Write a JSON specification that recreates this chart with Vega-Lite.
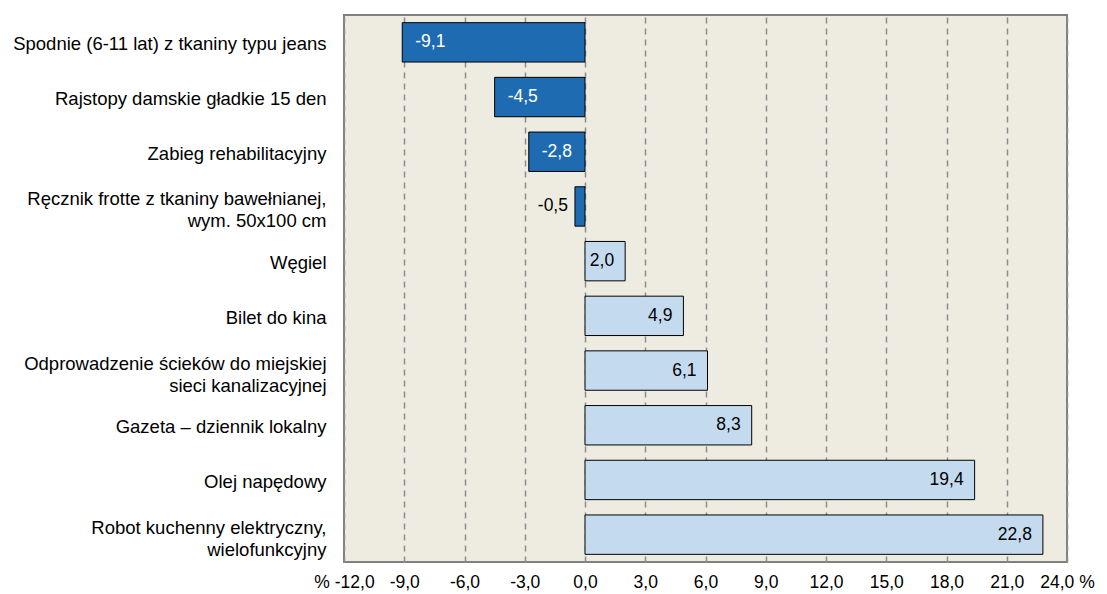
{
  "$schema": "https://vega.github.io/schema/vega-lite/v6.json",
  "width": 723,
  "height": 547,
  "autosize": "none",
  "padding": {"left": 344, "top": 15, "right": 40, "bottom": 32},
  "background": "#ffffff",
  "data": {"values": [
    {"item": "Spodnie (6-11 lat) z tkaniny typu jeans", "v": -9.1},
    {"item": "Rajstopy damskie gładkie 15 den", "v": -4.5},
    {"item": "Zabieg rehabilitacyjny", "v": -2.8},
    {"item": "Ręcznik frotte z tkaniny bawełnianej, wym. 50x100 cm", "v": -0.5},
    {"item": "Węgiel", "v": 2.0},
    {"item": "Bilet do kina", "v": 4.9},
    {"item": "Odprowadzenie ścieków do miejskiej sieci kanalizacyjnej", "v": 6.1},
    {"item": "Gazeta – dziennik lokalny", "v": 8.3},
    {"item": "Olej napędowy", "v": 19.4},
    {"item": "Robot kuchenny elektryczny, wielofunkcyjny", "v": 22.8}
  ]},
  "transform": [
    {"calculate": "replace(replace(format(datum.v, '.1f'), '.', ','), '−', '-')", "as": "lbl"}
  ],
  "encoding": {
    "y": {
      "field": "item", "type": "nominal", "sort": null,
      "scale": {"paddingInner": 0.28, "paddingOuter": 0.14},
      "axis": {
        "title": null, "domain": false, "ticks": false, "labelPadding": 18,
        "labelFont": "Liberation Sans", "labelFontSize": 18.5, "labelColor": "#000000",
        "labelLimit": 400, "labelLineHeight": 22,
        "labelOffset": {"condition": {"test": "length(datum.value) > 40", "value": -7}, "value": 2},
        "labelExpr": "datum.value == 'Ręcznik frotte z tkaniny bawełnianej, wym. 50x100 cm' ? ['Ręcznik frotte z tkaniny bawełnianej,', 'wym. 50x100 cm'] : datum.value == 'Odprowadzenie ścieków do miejskiej sieci kanalizacyjnej' ? ['Odprowadzenie ścieków do miejskiej', 'sieci kanalizacyjnej'] : datum.value == 'Robot kuchenny elektryczny, wielofunkcyjny' ? ['Robot kuchenny elektryczny,', 'wielofunkcyjny'] : datum.value"
      }
    }
  },
  "layer": [
    {
      "mark": {"type": "bar", "stroke": "#000000", "strokeWidth": 1},
      "encoding": {
        "x": {
          "field": "v", "type": "quantitative",
          "scale": {"domain": [-12, 24], "nice": false, "zero": false},
          "axis": {
            "title": null, "orient": "bottom",
            "values": [-12, -9, -6, -3, 0, 3, 6, 9, 12, 15, 18, 21, 24],
            "grid": true, "gridColor": "#8c8c8c", "gridDash": [6, 5], "gridWidth": 1.5,
            "domain": false, "ticks": false, "labelPadding": 11,
            "labelFont": "Liberation Sans", "labelFontSize": 17.5, "labelColor": "#000000",
            "labelFlush": false,
            "labelExpr": "datum.value == -12 ? '% -12,0' : datum.value == 24 ? '24,0 %' : replace(replace(format(datum.value, '.1f'), '.', ','), '−', '-')"
          }
        },
        "x2": {"datum": 0},
        "color": {
          "condition": {"test": "datum.v < 0", "value": "#1F6BB1"},
          "value": "#C4DBEF"
        }
      }
    },
    {
      "transform": [{"filter": "datum.v < -1"}],
      "mark": {"type": "text", "align": "left", "dx": 13, "font": "Liberation Sans", "fontSize": 17.5, "color": "#ffffff", "baseline": "middle"},
      "encoding": {
        "x": {"field": "v", "type": "quantitative"},
        "text": {"field": "lbl", "type": "nominal"}
      }
    },
    {
      "transform": [{"filter": "datum.v < 0 && datum.v >= -1"}],
      "mark": {"type": "text", "align": "right", "dx": -7, "font": "Liberation Sans", "fontSize": 17.5, "color": "#000000", "baseline": "middle"},
      "encoding": {
        "x": {"field": "v", "type": "quantitative"},
        "text": {"field": "lbl", "type": "nominal"}
      }
    },
    {
      "transform": [{"filter": "datum.v > 0"}],
      "mark": {"type": "text", "align": "right", "dx": -11, "font": "Liberation Sans", "fontSize": 17.5, "color": "#000000", "baseline": "middle"},
      "encoding": {
        "x": {"field": "v", "type": "quantitative"},
        "text": {"field": "lbl", "type": "nominal"}
      }
    }
  ],
  "config": {
    "view": {"fill": "#EEEBE1", "stroke": "#808080", "strokeWidth": 2}
  }
}
